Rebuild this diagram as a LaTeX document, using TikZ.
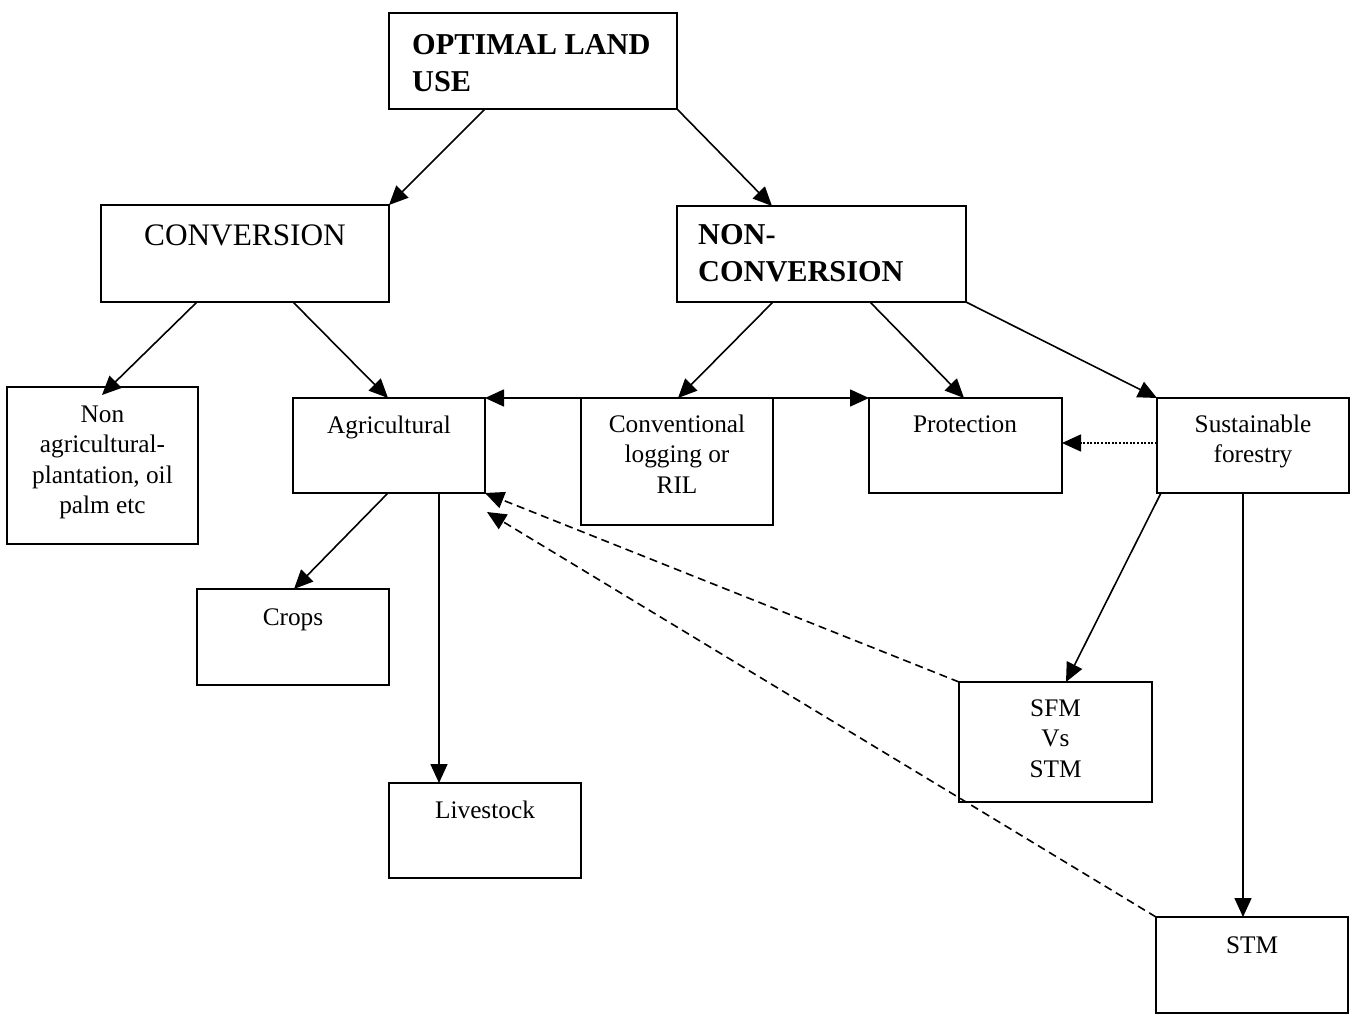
\documentclass[tikz,border=0pt]{standalone}
\usepackage{fontspec}
\setmainfont{Liberation Serif}
\usetikzlibrary{arrows.meta}
\newcommand\mlc[1]{\begin{tabular}[t]{@{}c@{}}#1\end{tabular}}
\newcommand\mll[1]{\begin{tabular}[t]{@{}l@{}}#1\end{tabular}}
\newcommand\boxat[5]{\node[box,minimum width={#4-#2},minimum height={#5-#3}] (#1) at ({(#2+#4)/2},{(#3+#5)/2}) {};}
\tikzset{
  box/.style={draw,line width=1.6pt,inner sep=0pt,outer sep=0pt,rectangle},
  txt/.style={anchor=base,inner sep=0pt,font=\fontsize{25.3}{30.5}\selectfont},
  bigtxt/.style={anchor=base,inner sep=0pt,font=\fontsize{31.3}{36}\selectfont},
  boldtxt/.style={anchor=base west,inner sep=0pt,font=\fontsize{30.3}{36.5}\selectfont\bfseries},
  arr/.style={line width=1.6pt,-{Triangle[length=19pt,width=17pt]}},
  darr/.style={line width=1.6pt,dash pattern=on 8pt off 5pt,-{Triangle[length=19pt,width=17pt]}},
  dotarr/.style={line width=1.5pt,dash pattern=on 2pt off 1.6pt,-{Triangle[length=19pt,width=17pt]}},
}
\begin{document}
\begin{tikzpicture}[x=1pt,y=-1pt]
\useasboundingbox (0,0) rectangle (1358,1024);
% boxes
\boxat{opt}{389}{13}{677}{109}
\boxat{conv}{101}{205}{389}{302}
\boxat{ncon}{677}{206}{966}{302}
\boxat{nagri}{7}{387}{198}{544}
\boxat{agri}{293}{398}{485}{493}
\boxat{clog}{581}{398}{773}{525}
\boxat{prot}{869}{398}{1062}{493}
\boxat{sust}{1157}{398}{1349}{493}
\boxat{crops}{197}{589}{389}{685}
\boxat{live}{389}{783}{581}{878}
\boxat{sfm}{959}{682}{1152}{802}
\boxat{stm}{1156}{917}{1348}{1013}
% texts
\node[boldtxt] (toptxt) at (412,55) {\mll{OPTIMAL LAND\\USE}};
\node[boldtxt] (tncon) at (698,245) {\mll{NON-\\CONVERSION}};
\node[bigtxt] (tconv) at (245,246) {CONVERSION};
\node[txt] (tnagri) at (102.5,422) {\mlc{Non\\agricultural-\\plantation, oil\\palm etc}};
\node[txt] (tagri) at (389,433) {Agricultural};
\node[txt] (tclog) at (677,432) {\mlc{Conventional\\logging or\\RIL}};
\node[txt] (tprot) at (965,432) {Protection};
\node[txt] (tsust) at (1253,432) {\mlc{Sustainable\\forestry}};
\node[txt] (tcrops) at (293,625) {Crops};
\node[txt] (tlive) at (485,818) {Livestock};
\node[txt] (tsfm) at (1055.5,716) {\mlc{SFM\\Vs\\STM}};
\node[txt] (tstm) at (1252,953) {STM};
% connectors
\draw[arr] ([xshift=96pt]opt.south west) -- (conv.north east);
\draw[arr] (opt.south east) -- ([xshift=95pt]ncon.north west);
\draw[arr] ([xshift=96pt]conv.south west) -- ([xshift=95pt,yshift=-8pt]nagri.north west);
\draw[arr] ([xshift=192pt]conv.south west) -- ([xshift=95pt]agri.north west);
\draw[arr] ([xshift=96pt]ncon.south west) -- ([xshift=97pt]clog.north west);
\draw[arr] ([xshift=193pt]ncon.south west) -- ([xshift=95pt]prot.north west);
\draw[arr] (ncon.south east) -- (sust.north west);
\draw[arr] (clog.north west) -- (agri.north east);
\draw[arr] (clog.north east) -- (prot.north west);
\draw[dotarr] ([yshift=-45pt]sust.north west) -- ([yshift=-45pt]prot.north east);
\draw[arr] ([xshift=95pt]agri.south west) -- ([xshift=97pt]crops.north west);
\draw[arr] ([xshift=146pt]agri.south west) -- ([xshift=50pt]live.north west);
\draw[arr] ([xshift=4pt]sust.south west) -- ([xshift=107pt]sfm.north west);
\draw[arr] ([xshift=86pt]sust.south west) -- ([xshift=87pt]stm.north west);
\draw[darr] (sfm.north west) -- (agri.south east);
\draw[darr] (stm.north west) -- ([xshift=2pt,yshift=-19pt]agri.south east);
\end{tikzpicture}
\end{document}
